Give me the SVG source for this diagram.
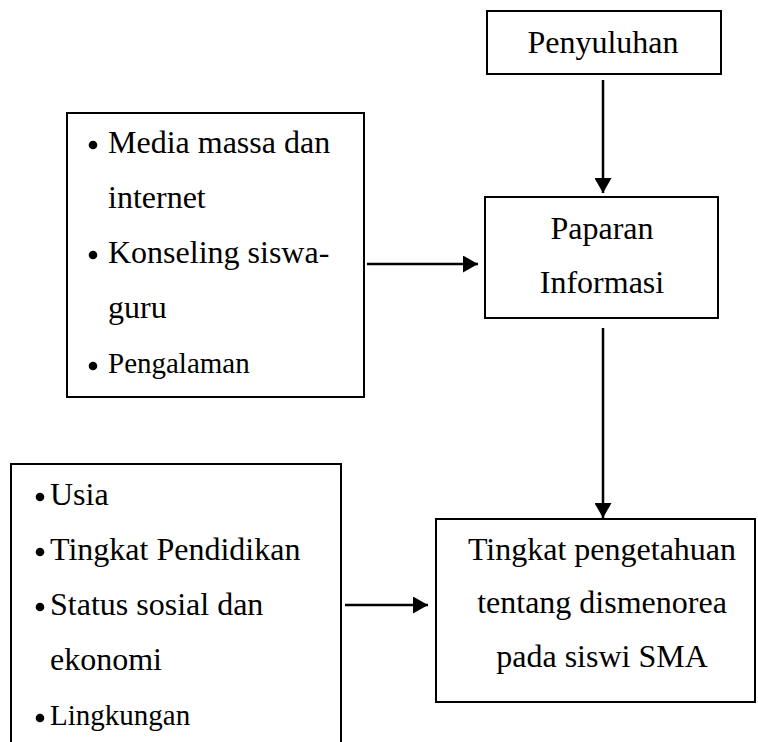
<svg xmlns="http://www.w3.org/2000/svg" width="758" height="742" viewBox="0 0 758 742">
<style>
.box{fill:#fff;stroke:#000;stroke-width:2}
.t{font-family:"Liberation Serif","Times New Roman",serif;font-size:32px;fill:#000}
.c{text-anchor:middle}
.s{font-size:29px}
.ln{stroke:#000;stroke-width:2.5;fill:none}
</style>
<defs>
<marker id="ah" viewBox="0 0 15 17" refX="15" refY="8.5" markerWidth="15" markerHeight="17" markerUnits="userSpaceOnUse" orient="auto">
<path d="M0,0 L15,8.5 L0,17 Z" fill="#000"/>
</marker>
</defs>
<rect width="758" height="742" fill="#fff"/>
<g id="penyuluhan">
<rect class="box" x="487" y="11" width="234" height="63"/>
<text class="t c" x="603" y="53">Penyuluhan</text>
</g>
<g id="paparan">
<rect class="box" x="485" y="197" width="233" height="121"/>
<text class="t c" x="602" y="239">Paparan</text>
<text class="t c" x="602" y="293">Informasi</text>
</g>
<g id="media">
<rect class="box" x="67" y="113" width="297" height="284"/>
<circle cx="93" cy="145" r="4.3"/>
<text class="t" x="108" y="153">Media massa dan</text>
<text class="t" x="108" y="208">internet</text>
<circle cx="93" cy="255" r="4.3"/>
<text class="t" x="108" y="263">Konseling siswa-</text>
<text class="t" x="108" y="318">guru</text>
<circle cx="93" cy="366" r="4.3"/>
<text class="t s" x="108" y="373">Pengalaman</text>
</g>
<g id="faktor">
<rect class="box" x="11" y="464" width="330" height="300"/>
<circle cx="40" cy="497" r="4.3"/>
<text class="t" x="50" y="505">Usia</text>
<circle cx="40" cy="552" r="4.3"/>
<text class="t" x="50" y="560">Tingkat Pendidikan</text>
<circle cx="40" cy="607" r="4.3"/>
<text class="t" x="50" y="615">Status sosial dan</text>
<text class="t" x="50" y="670">ekonomi</text>
<circle cx="40" cy="718" r="4.3"/>
<text class="t s" x="50" y="725">Lingkungan</text>
</g>
<g id="tingkat">
<rect class="box" x="436" y="519" width="319" height="183"/>
<text class="t c" x="602" y="560">Tingkat pengetahuan</text>
<text class="t c" x="602" y="613">tentang dismenorea</text>
<text class="t c" x="602" y="667">pada siswi SMA</text>
</g>
<g id="connectors">
<line class="ln" x1="603" y1="80" x2="603" y2="193" marker-end="url(#ah)"/>
<line class="ln" x1="367" y1="264" x2="478" y2="264" marker-end="url(#ah)"/>
<line class="ln" x1="603" y1="328" x2="603" y2="518" marker-end="url(#ah)"/>
<line class="ln" x1="345" y1="605" x2="428" y2="605" marker-end="url(#ah)"/>
</g>
</svg>
